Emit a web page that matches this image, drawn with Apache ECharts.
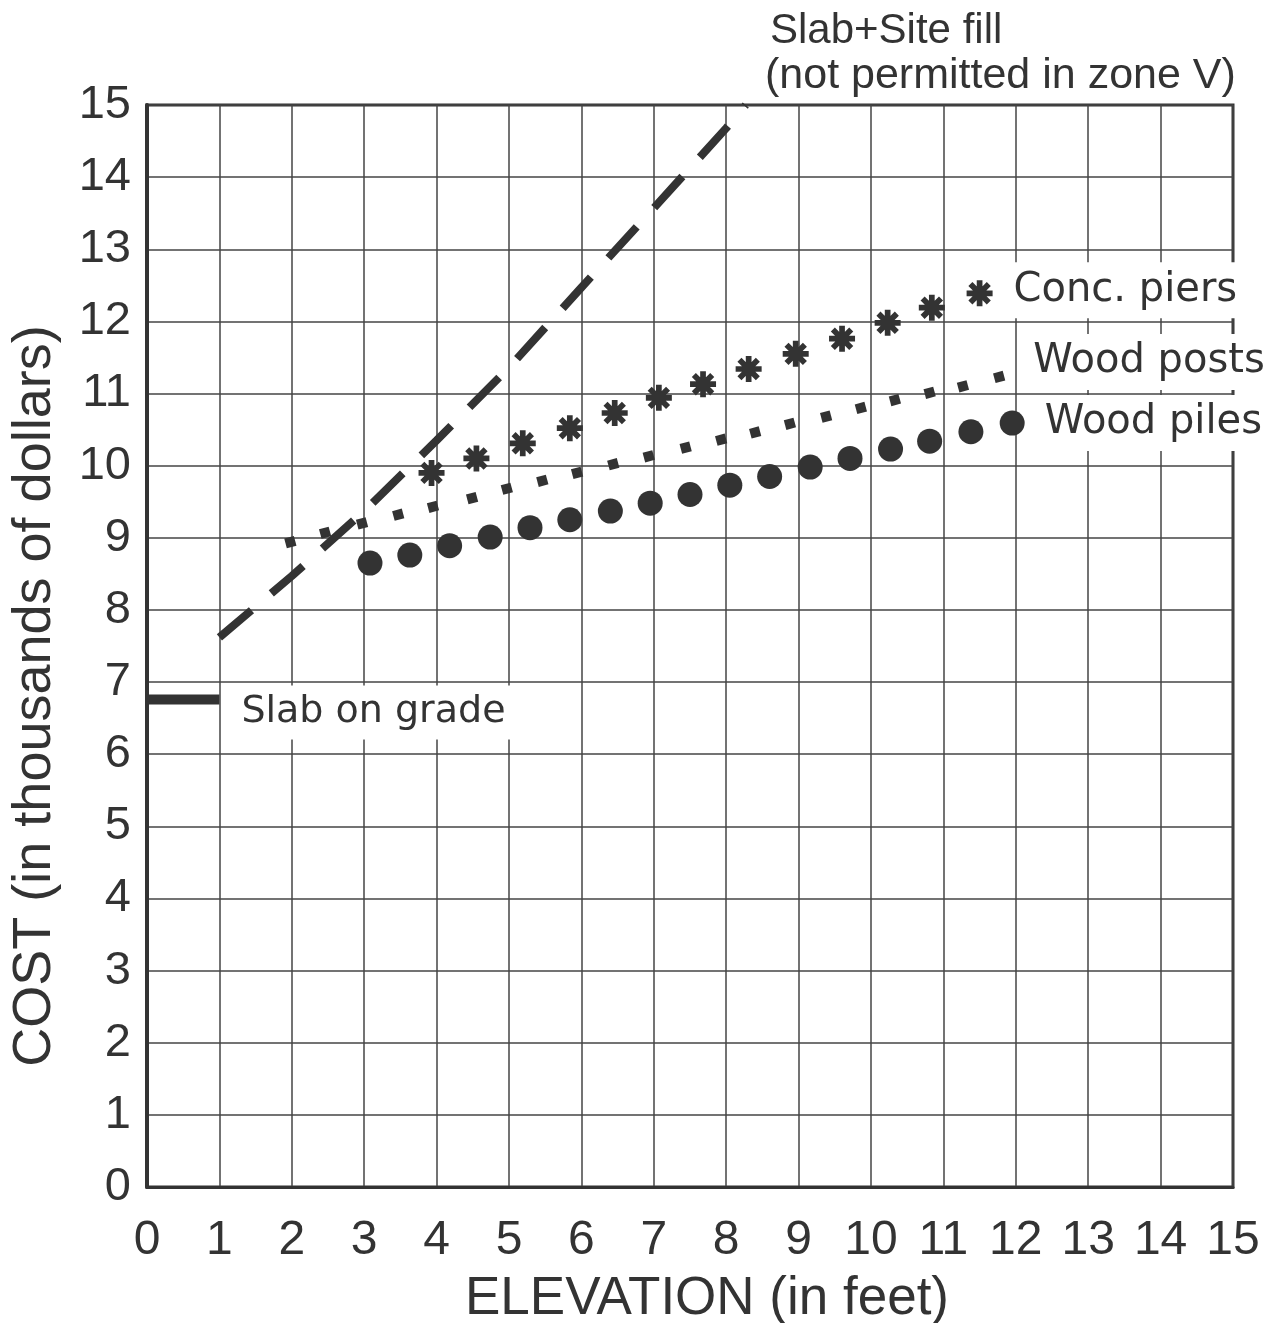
<!DOCTYPE html>
<html>
<head>
<meta charset="utf-8">
<script src="https://cdn.jsdelivr.net/npm/echarts@6/dist/echarts.min.js"></script>
<style>
  html, body { margin: 0; padding: 0; background: #fff; }
  #chart { width: 1278px; height: 1323px; }
</style>
</head>
<body>
<div id="chart"></div>
<script>
// slab on grade (flat cost, elevation 0-1 ft)
const slabX = [0, 1]
const slabY = [6.76, 6.76]

// slab + site fill (dashed)
const fillX = [1, 2, 3, 4, 5, 6, 7, 8, 8.27]
const fillY = [7.62, 8.47, 9.37, 10.35, 11.36, 12.47, 13.57, 14.68, 15]

// concrete piers (asterisks)
const piersX = [3.93, 4.55, 5.19, 5.84, 6.46, 7.07, 7.68, 8.31, 8.96, 9.6, 10.23, 10.84, 11.5]
const piersY = [9.9, 10.1, 10.31, 10.52, 10.73, 10.94, 11.13, 11.34, 11.55, 11.76, 11.98, 12.19, 12.39]

// wood posts (small squares)
const postsX = [1.98, 2.46, 2.97, 3.47, 3.95, 4.49, 4.97, 5.46, 5.94, 6.44, 6.93, 7.44, 7.93, 8.4, 8.88, 9.38, 9.86, 10.33, 10.81, 11.27, 11.77]
const postsY = [8.94, 9.07, 9.2, 9.32, 9.43, 9.55, 9.68, 9.79, 9.9, 10.02, 10.13, 10.25, 10.36, 10.46, 10.58, 10.68, 10.8, 10.91, 11.01, 11.1, 11.23]

// wood piles (big dots)
const pilesX = [3.08, 3.63, 4.18, 4.74, 5.29, 5.84, 6.4, 6.95, 7.5, 8.05, 8.6, 9.16, 9.71, 10.27, 10.81, 11.38, 11.95]
const pilesY = [8.65, 8.76, 8.89, 9.01, 9.14, 9.25, 9.37, 9.48, 9.6, 9.73, 9.85, 9.98, 10.1, 10.23, 10.34, 10.47, 10.59]

const ink = '#333'
const sansFont = "'Liberation Sans', Arial, sans-serif"
const labelFont = "'DejaVu Sans', sans-serif"

// 8 armed asterisk, thin spokes
const asterisk = 'path://M0,0.78 L2,0.78 L2,1.22 L0,1.22 Z ' +
  'M1.22,0 L1.22,2 L0.78,2 L0.78,0 Z ' +
  'M0.448,0.137 L1.863,1.552 L1.552,1.863 L0.137,0.448 Z ' +
  'M1.863,0.448 L0.448,1.863 L0.137,1.552 L1.552,0.137 Z'

function seriesLabel(text, distance, offset, size) {
  return {
    show: true,
    position: 'right',
    distance: distance,
    offset: offset,
    formatter: text,
    color: ink,
    opacity: 1,
    fontFamily: labelFont,
    fontSize: size || 40,
    backgroundColor: '#fff',
    padding: [8, 8, 8, 8],
  }
}

// last point carries the series name as a label
function toData(xs, ys, label) {
  return xs.map((x, i) => {
    if (label && i === xs.length - 1) return { value: [x, ys[i]], label: label }
    return [x, ys[i]]
  })
}

const chart = echarts.init(document.getElementById('chart'))

chart.setOption({
  backgroundColor: '#fff',
  animation: false,
  title: [
    {
      text: 'Slab+Site fill',
      left: 770,
      top: 10,
      padding: 0,
      textStyle: { color: ink, fontFamily: sansFont, fontSize: 42, fontWeight: 'normal' },
    },
    {
      text: '(not permitted in zone V)',
      left: 765,
      top: 55,
      padding: 0,
      textStyle: { color: ink, fontFamily: sansFont, fontSize: 43, fontWeight: 'normal' },
    },
  ],
  grid: {
    left: 147,
    right: 45,
    top: 105,
    bottom: 136,
    outerBoundsMode: 'none',
    containLabel: false,
    show: true,
    borderColor: ink,
    borderWidth: 3,
    backgroundColor: 'transparent',
  },
  xAxis: {
    type: 'value',
    min: 0,
    max: 15,
    interval: 1,
    name: 'ELEVATION (in feet)',
    nameLocation: 'middle',
    nameGap: 86,
    nameTextStyle: {
      color: ink,
      fontFamily: sansFont,
      fontSize: 53,
      padding: [0, 0, 0, 34],
    },
    axisLine: { show: true, lineStyle: { color: ink, width: 3 } },
    axisTick: { show: false },
    axisLabel: { color: ink, fontFamily: sansFont, fontSize: 48, margin: 30 },
    splitLine: { show: true, lineStyle: { color: '#444', width: 1.5 } },
  },
  yAxis: {
    type: 'value',
    min: 0,
    max: 15,
    interval: 1,
    name: 'COST (in thousands of dollars)',
    nameLocation: 'middle',
    nameGap: 85,
    nameTextStyle: {
      color: ink,
      fontFamily: sansFont,
      fontSize: 54,
      padding: [0, 100, 0, 0],
    },
    axisLine: { show: true, lineStyle: { color: ink, width: 4 } },
    axisTick: { show: false },
    axisLabel: { color: ink, fontFamily: sansFont, fontSize: 47, margin: 16 },
    splitLine: { show: true, lineStyle: { color: '#444', width: 1.5 } },
  },
  series: [
    {
      name: 'Slab on grade',
      type: 'line',
      data: toData(slabX, slabY),
      showSymbol: false,
      lineStyle: { color: ink, width: 10 },
      endLabel: seriesLabel('Slab on grade', 14, [0, 13], 38),
      z: 3,
    },
    {
      name: 'Slab+Site fill',
      type: 'line',
      data: toData(fillX, fillY),
      showSymbol: false,
      lineStyle: { color: ink, width: 8, type: [42, 26], cap: 'butt' },
      z: 3,
    },
    {
      name: 'Conc. piers',
      type: 'scatter',
      data: toData(piersX, piersY, seriesLabel('Conc. piers', 13, [0, -3])),
      symbol: asterisk,
      symbolSize: 26,
      itemStyle: { color: ink, opacity: 1 },
      z: 4,
    },
    {
      name: 'Wood posts',
      type: 'scatter',
      data: toData(postsX, postsY, seriesLabel('Wood posts', 20, [0, -15])),
      symbol: 'rect',
      symbolSize: 10,
      symbolRotate: 15,
      itemStyle: { color: ink, opacity: 1 },
      z: 4,
    },
    {
      name: 'Wood piles',
      type: 'scatter',
      data: toData(pilesX, pilesY, seriesLabel('Wood piles', 12, [0, 0])),
      symbol: 'circle',
      symbolSize: 25,
      itemStyle: { color: ink, opacity: 1 },
      z: 4,
    },
  ],
})
</script>
</body>
</html>
